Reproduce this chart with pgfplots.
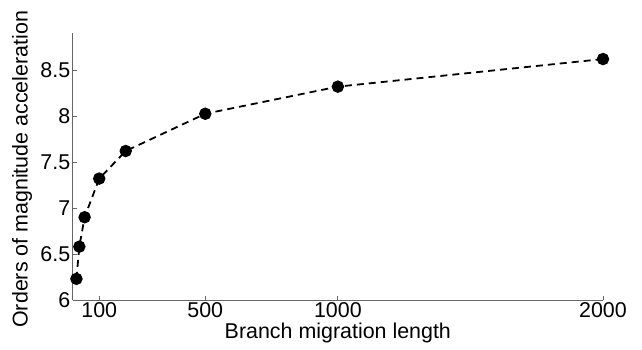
\documentclass[border=0pt]{standalone}
\usepackage{pgfplots}
\pgfplotsset{compat=1.18}
\usepackage{fontspec}
\setmainfont{Liberation Sans}
\begin{document}
\begin{tikzpicture}
\useasboundingbox (-72.7bp,-50bp) rectangle (569.3bp,300bp);
\begin{axis}[
  scale only axis,
  width=530.3bp, height=266.7bp,
  xmin=0, xmax=2000, ymin=6, ymax=8.9,
  axis x line*=bottom, axis y line*=left,
  axis line style={gray!80!black, line width=0.9bp},
  xtick={100,500,1000,2000},
  ytick={6,6.5,7,7.5,8,8.5},
  tick align=inside,
  major tick length=4bp,
  tick style={gray!80!black, line width=0.8bp},
  /pgf/number format/assume math mode=true,
  /pgf/number format/1000 sep={},
  tick label style={font=\fontsize{21.5}{24}\selectfont, black},
  label style={font=\fontsize{21.5}{24}\selectfont},
  xlabel={Branch migration length},
  ylabel={Orders of magnitude acceleration},
  xlabel style={at={(axis description cs:0.5,-0.124)}, anchor=center},
  ylabel style={at={(axis description cs:-0.0956,0.49)}, anchor=center, rotate=0},
  xticklabel style={yshift=1bp},
  yticklabel style={xshift=1bp},
  clip=false,
]
\addplot[black, line width=1.8bp, dash pattern=on 7bp off 5bp,
  mark=*, mark size=5.3bp, mark options={solid, fill=black}]
coordinates {
(14,6.23) (25,6.58) (45,6.90) (100,7.32) (200,7.62) (500,8.025) (1000,8.32) (2000,8.62)
};
\end{axis}
\end{tikzpicture}
\end{document}
